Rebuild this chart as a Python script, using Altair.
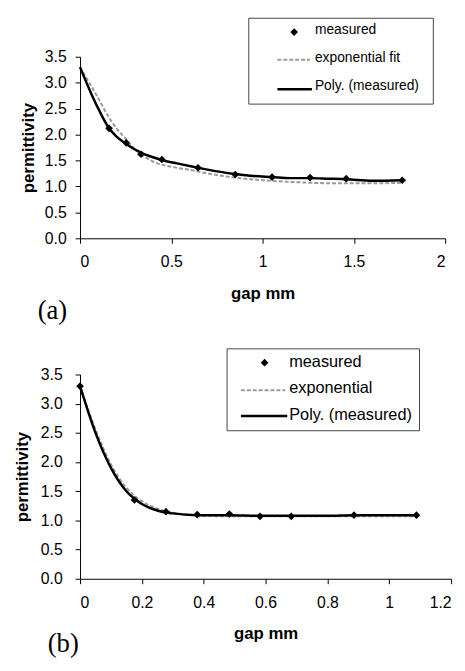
import altair as alt
import pandas as pd

# ---------------- Panel (a) data ----------------
a_meas_gap = [0.159, 0.253, 0.334, 0.448, 0.646, 0.85, 1.052, 1.26, 1.458, 1.765]
a_meas_perm = [2.12, 1.84, 1.62, 1.52, 1.36, 1.23, 1.18, 1.17, 1.15, 1.12]
a_exp_gap = [0, 0.05, 0.1, 0.15, 0.2, 0.25, 0.3, 0.4, 0.5, 0.6, 0.7, 0.85, 1.0, 1.2, 1.4, 1.6, 1.76]
a_exp_perm = [3.3, 3.0, 2.7, 2.38, 2.12, 1.92, 1.72, 1.48, 1.38, 1.32, 1.25, 1.17, 1.12, 1.08, 1.06, 1.06, 1.07]
a_poly_gap = [0, 0.05, 0.1, 0.159, 0.2, 0.253, 0.334, 0.448, 0.55, 0.646, 0.75, 0.85, 0.95,
              1.052, 1.15, 1.26, 1.36, 1.458, 1.6, 1.765]
a_poly_perm = [3.3, 2.88, 2.5, 2.12, 1.96, 1.82, 1.65, 1.51, 1.43, 1.36, 1.29, 1.24, 1.2,
               1.18, 1.16, 1.16, 1.15, 1.14, 1.11, 1.12]
a_x_ticks = [0, 0.5, 1, 1.5, 2]
a_labels = ["measured", "exponential fit", "Poly. (measured)"]

# ---------------- Panel (b) data ----------------
b_meas_gap = [0, 0.176, 0.278, 0.379, 0.483, 0.582, 0.683, 0.886, 1.088]
b_meas_perm = [3.3, 1.35, 1.15, 1.10, 1.11, 1.07, 1.07, 1.09, 1.09]
b_exp_gap = [0, 0.05, 0.1, 0.15, 0.2, 0.25, 0.3, 0.35, 0.4, 0.5, 0.6, 0.7, 0.8, 0.9, 1.0, 1.09]
b_exp_perm = [3.3, 2.56, 1.96, 1.56, 1.33, 1.2, 1.13, 1.1, 1.08, 1.07, 1.07, 1.07, 1.07, 1.07, 1.07, 1.07]
b_poly_gap = [0, 0.05, 0.1, 0.15, 0.176, 0.2, 0.25, 0.3, 0.379, 0.483, 0.582, 0.683, 0.8, 0.886, 1.0, 1.088]
b_poly_perm = [3.3, 2.5, 1.9, 1.5, 1.37, 1.28, 1.17, 1.12, 1.09, 1.09, 1.08, 1.08, 1.08, 1.09, 1.09, 1.09]
b_x_ticks = [0, 0.2, 0.4, 0.6, 0.8, 1, 1.2]
b_labels = ["measured", "exponential", "Poly. (measured)"]

y_ticks = [0, 0.5, 1.0, 1.5, 2.0, 2.5, 3.0, 3.5]

FONT = "Liberation Sans"
EXP_COLOR = "#9a9a9a"


def one_row():
    return pd.DataFrame({"k": [0]})


def panel(meas_x, meas_y, exp_x, exp_y, poly_x, poly_y, xmax, xticks, w, h,
          labels, leg, tag, tag_pos, lab_pad_y, title_pad_y, leg_font):
    xs = alt.Scale(domain=[0, xmax], nice=False, zero=True)
    ys = alt.Scale(domain=[0, 3.5], nice=False)
    xax = alt.Axis(values=xticks, format="~g", title="gap mm", grid=False,
                   domainColor="black", tickColor="black", tickSize=5,
                   labelFont=FONT, labelFontSize=16, labelColor="black", labelPadding=11,
                   titleFont=FONT, titleFontSize=17, titleFontWeight="bold",
                   titleColor="black", titlePadding=16)
    yax = alt.Axis(values=y_ticks, format=".1f", title="permittivity", grid=False,
                   domainColor="black", tickColor="black", tickSize=5,
                   labelFont=FONT, labelFontSize=16, labelColor="black", labelPadding=lab_pad_y,
                   titleFont=FONT, titleFontSize=17, titleFontWeight="bold",
                   titleColor="black", titlePadding=title_pad_y)

    df_exp = pd.DataFrame({"gap": exp_x, "perm": exp_y})
    df_poly = pd.DataFrame({"gap": poly_x, "perm": poly_y})
    df_meas = pd.DataFrame({"gap": meas_x, "perm": meas_y})

    exp_line = alt.Chart(df_exp).mark_line(
        color=EXP_COLOR, strokeWidth=2, strokeDash=[4, 2], interpolate="monotone"
    ).encode(x=alt.X("gap:Q", scale=xs, axis=xax), y=alt.Y("perm:Q", scale=ys, axis=yax))
    poly_line = alt.Chart(df_poly).mark_line(
        color="black", strokeWidth=2.5, interpolate="monotone"
    ).encode(x=alt.X("gap:Q", scale=xs, axis=xax), y=alt.Y("perm:Q", scale=ys, axis=yax))
    pts = alt.Chart(df_meas).mark_point(
        shape="diamond", filled=True, color="black", size=60, opacity=1
    ).encode(x=alt.X("gap:Q", scale=xs, axis=xax), y=alt.Y("perm:Q", scale=ys, axis=yax))

    (bx1, bx2, by1, by2, dx, dy, lx1, lx2, ey, py, tx, ty) = leg
    box = alt.Chart(one_row()).mark_rect(
        fill="white", stroke="#444", strokeWidth=1
    ).encode(x=alt.value(bx1), x2=alt.value(bx2), y=alt.value(by1), y2=alt.value(by2))
    leg_pt = alt.Chart(one_row()).mark_point(
        shape="diamond", filled=True, color="black", size=60, opacity=1
    ).encode(x=alt.value(dx), y=alt.value(dy))
    leg_exp = alt.Chart(one_row()).mark_rule(
        color=EXP_COLOR, strokeWidth=2, strokeDash=[4, 2]
    ).encode(x=alt.value(lx1), x2=alt.value(lx2), y=alt.value(ey))
    leg_poly = alt.Chart(one_row()).mark_rule(
        color="black", strokeWidth=2.5
    ).encode(x=alt.value(lx1), x2=alt.value(lx2 + 2), y=alt.value(py))
    txt = []
    for lab, yy in zip(labels, ty):
        txt.append(alt.Chart(one_row()).mark_text(
            text=lab, align="left", baseline="middle", font=FONT,
            fontSize=leg_font, color="black"
        ).encode(x=alt.value(tx), y=alt.value(yy)))
    tag_txt = alt.Chart(one_row()).mark_text(
        text=tag, align="center", baseline="middle", font="Liberation Serif",
        fontSize=27, color="black"
    ).encode(x=alt.value(tag_pos[0]), y=alt.value(tag_pos[1]))

    return alt.layer(exp_line, poly_line, pts, box, leg_pt, leg_exp, leg_poly,
                     *txt, tag_txt).properties(width=w, height=h)


# legend geometry: box x1,x2,y1,y2, diamond x,y, line x1,x2, exp y, poly y, text x, text ys
chart_a = panel(a_meas_gap, a_meas_perm, a_exp_gap, a_exp_perm, a_poly_gap, a_poly_perm,
                2, a_x_ticks, 370, 184, a_labels,
                (171, 358, -39, 48, 217, -25, 200, 233, 3, 33, 238, [-27, 1, 30]),
                "(a)", (-28, 258), 9, 7, 14)
chart_b = panel(b_meas_gap, b_meas_perm, b_exp_gap, b_exp_perm, b_poly_gap, b_poly_perm,
                1.2, b_x_ticks, 376, 207, b_labels,
                (149, 344, -26, 57, 187, -12, 163, 208, 16, 42, 212, [-13, 14, 41]),
                "(b)", (-17, 273), 13, 9, 16.5)

chart = alt.vconcat(chart_a, chart_b, spacing=24).configure_view(strokeWidth=0)

chart.save("out.html", embed_options={"renderer": "svg", "actions": False})
